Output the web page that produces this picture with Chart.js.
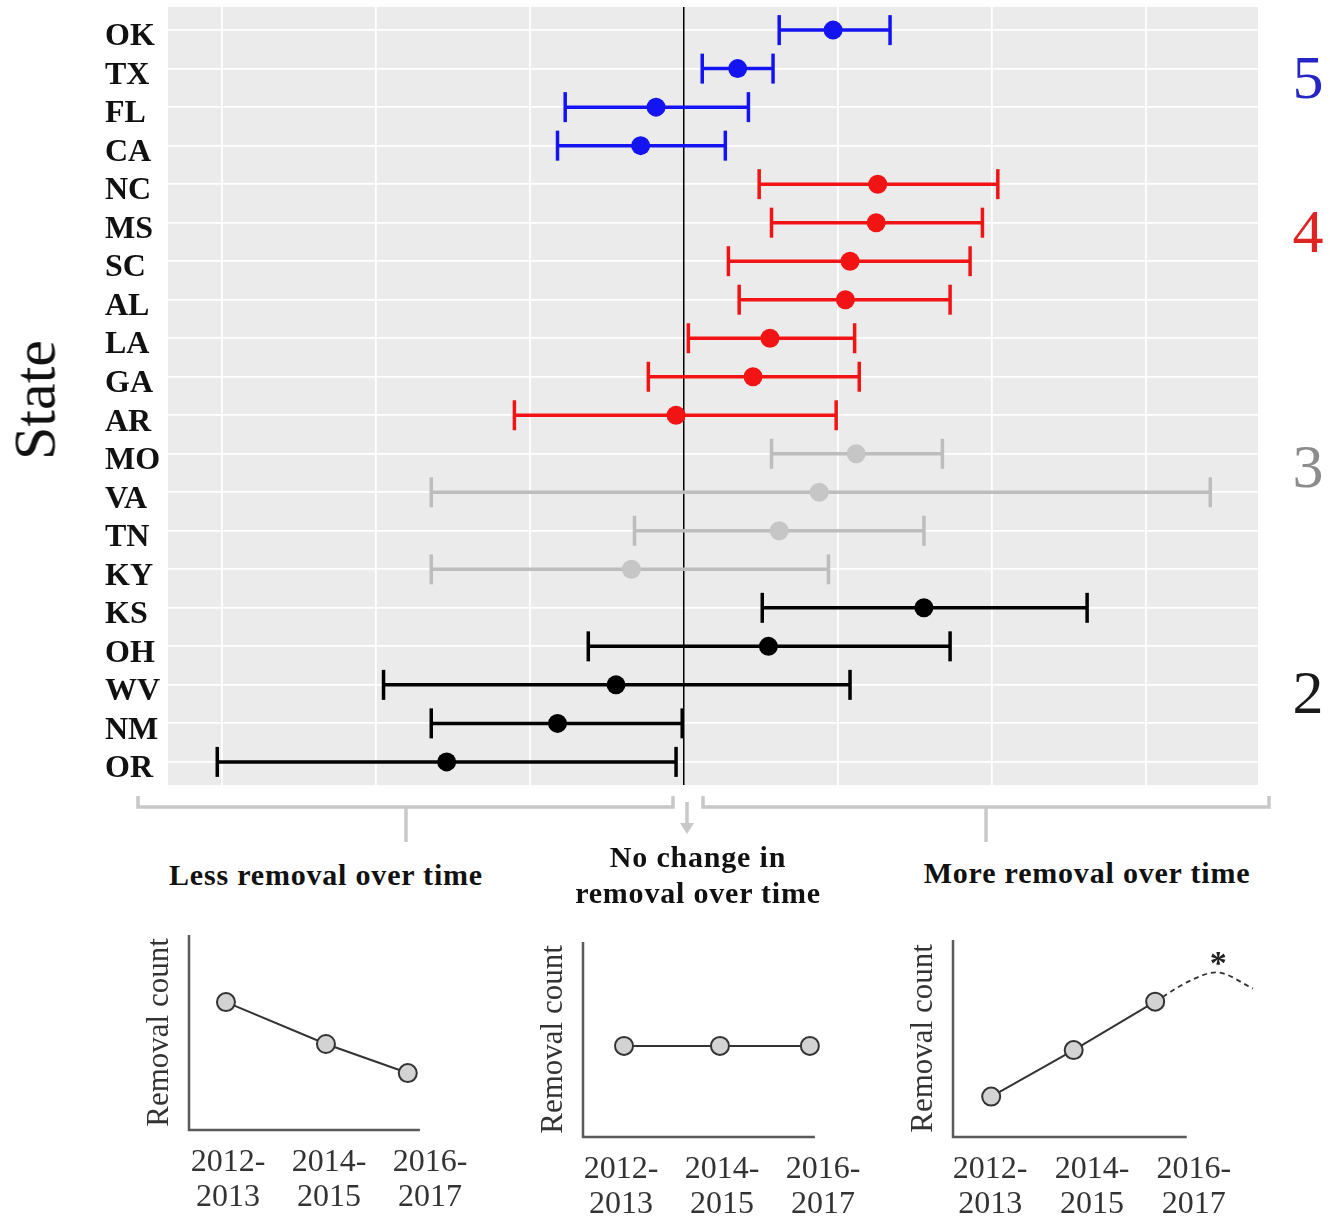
<!DOCTYPE html>
<html>
<head>
<meta charset="utf-8">
<script src="https://cdn.jsdelivr.net/npm/chart.js@4.4.1/dist/chart.umd.min.js"></script>
<style>
  html, body { margin: 0; padding: 0; background: #fff; }
  #page { position: relative; width: 1330px; height: 1220px; overflow: hidden; font-family: "Liberation Serif", "DejaVu Serif", serif; }
  canvas { position: absolute; }
  .lbl { position: absolute; transform: translate(-50%, -50%); white-space: nowrap; color: #111; font-family: "Liberation Serif", serif; }
  .head { font-weight: bold; font-size: 30px; letter-spacing: 0.8px; text-align: center; line-height: 36px; }
</style>
</head>
<body>
<div id="page">
  <canvas id="main" width="1330" height="800" style="left:0;top:0"></canvas>
  <div class="lbl" style="left:35px;top:400px;font-size:60px;transform:translate(-50%,-50%) rotate(-90deg)">State</div>

  <svg style="position:absolute;left:0;top:780px" width="1330" height="70">
    <g fill="none" stroke="#c8c8c8" stroke-width="3.5">
      <path d="M138,16 V27 H673 V16" />
      <path d="M406,27 V62" />
      <path d="M703,16 V27 H1269 V16" />
      <path d="M986,27 V62" />
      <path d="M687,22 V46" />
    </g>
    <polygon points="680,43 694,43 687,54" fill="#c8c8c8" />
  </svg>

  <div class="lbl head" style="left:326px;top:875px">Less removal over time</div>
  <div class="lbl head" style="left:698px;top:875px">No change in<br>removal over time</div>
  <div class="lbl head" style="left:1087px;top:873px">More removal over time</div>

  <canvas id="less" width="361" height="300" style="left:129px;top:920px"></canvas>
  <canvas id="same" width="360" height="300" style="left:523px;top:927px"></canvas>
  <canvas id="more" width="373" height="300" style="left:893px;top:927px"></canvas>
</div>
<script>
// forest plot data (top to bottom)
const states = ['OK', 'TX', 'FL', 'CA', 'NC', 'MS', 'SC', 'AL', 'LA', 'GA', 'AR', 'MO', 'VA', 'TN', 'KY', 'KS', 'OH', 'WV', 'NM', 'OR'];
const estimate = [0.97, 0.35, -0.18, -0.28, 1.26, 1.25, 1.08, 1.05, 0.56, 0.45, -0.05, 1.12, 0.88, 0.62, -0.34, 1.56, 0.55, -0.44, -0.82, -1.54];
const lower = [0.62, 0.12, -0.77, -0.82, 0.49, 0.57, 0.29, 0.36, 0.03, -0.23, -1.10, 0.57, -1.64, -0.32, -1.64, 0.51, -0.62, -1.95, -1.64, -3.03];
const upper = [1.34, 0.58, 0.42, 0.27, 2.04, 1.94, 1.86, 1.73, 1.11, 1.14, 0.99, 1.68, 3.42, 1.56, 0.94, 2.62, 1.73, 1.08, -0.01, -0.05];
const group = [5, 5, 5, 5, 4, 4, 4, 4, 4, 4, 4, 3, 3, 3, 3, 2, 2, 2, 2, 2];
const gridValues = [-3, -2, -1, 0, 1, 2, 3];

// group numbers on the right
const groupNames = ['5', '4', '3', '2'];
const groupLabelRows = [1.35, 5.35, 11.45, 17.3];

// schematic panels below
const yearLabels = [['2012-', '2013'], ['2014-', '2015'], ['2016-', '2017']];
const lessX = [-0.02, 0.97, 1.78];
const lessY = [6.56, 4.41, 2.92];
const sameX = [0.03, 0.98, 1.87];
const sameY = [4.67, 4.67, 4.67];
const moreX = [0.01, 0.82, 1.62];
const moreY = [2.05, 4.41, 6.87];
const trendX = [1.62, 1.95, 2.22, 2.58];
const trendY = [6.87, 7.9, 8.36, 7.54];

const serif = '"Liberation Serif", "DejaVu Serif", serif';
const barColor = { 5: '#1414f2', 4: '#f21414', 3: '#bdbdbd', 2: '#000000' };
const dotColor = { 5: '#1414f2', 4: '#f21414', 3: '#c6c6c6', 2: '#000000' };
const labelColor = { 5: '#2626c4', 4: '#e02424', 3: '#8c8c8c', 2: '#1a1a1a' };

const panelBg = {
  id: 'panelBg',
  beforeDraw(chart) {
    const { ctx, chartArea: a } = chart;
    ctx.save();
    ctx.fillStyle = '#ebebeb';
    ctx.fillRect(a.left, a.top, a.right - a.left, a.bottom - a.top);
    ctx.restore();
  }
};

const groupLabels = {
  id: 'groupLabels',
  afterDraw(chart) {
    const { ctx, chartArea: a, scales } = chart;
    ctx.save();
    ctx.font = '62px ' + serif;
    ctx.textAlign = 'center';
    ctx.textBaseline = 'middle';
    groupNames.forEach((g, k) => {
      ctx.fillStyle = labelColor[g];
      ctx.fillText(g, a.right + 50, scales.y.getPixelForValue(groupLabelRows[k]));
    });
    ctx.restore();
  }
};

const datasets = [{
  data: [{ x: 0, y: -0.6 }, { x: 0, y: 19.6 }],
  showLine: true, borderColor: '#000', borderWidth: 1.5, pointRadius: 0, order: 3
}];
states.forEach((s, i) => {
  const c = barColor[group[i]];
  datasets.push({
    data: [{ x: lower[i], y: i }, { x: upper[i], y: i }],
    showLine: true, borderColor: c, borderWidth: 3.5,
    pointStyle: 'line', pointRotation: 90, pointRadius: 15,
    pointBorderWidth: 3.5, pointBorderColor: c, order: 2
  });
});
datasets.push({
  data: states.map((s, i) => ({ x: estimate[i], y: i })),
  pointRadius: 9.5, pointBorderWidth: 0,
  pointBackgroundColor: group.map(g => dotColor[g]), order: 1
});

new Chart(document.getElementById('main'), {
  type: 'scatter',
  data: { datasets },
  options: {
    responsive: false, animation: false, events: [],
    layout: { autoPadding: false, padding: { top: 7, right: 72, bottom: 15, left: 105 } },
    plugins: { legend: { display: false }, tooltip: { enabled: false } },
    scales: {
      x: {
        type: 'linear', min: -3.35, max: 3.73,
        afterBuildTicks: s => { s.ticks = gridValues.map(v => ({ value: v })); },
        afterFit: s => { s.height = 0; s.paddingLeft = 0; s.paddingRight = 0; },
        ticks: { display: false },
        border: { display: false },
        grid: { drawTicks: false, lineWidth: 1.8, color: c => c.tick && c.tick.value === 0 ? 'rgba(0,0,0,0)' : '#ffffff' }
      },
      y: {
        type: 'linear', min: -0.6, max: 19.6, reverse: true,
        afterBuildTicks: s => { s.ticks = states.map((_, i) => ({ value: i })); },
        afterFit: s => { s.width = 63; s.paddingTop = 0; s.paddingBottom = 0; },
        ticks: {
          callback: v => states[v], crossAlign: 'far', labelOffset: 7, autoSkip: false,
          color: '#111', font: { family: serif, size: 32, weight: 'bold' }
        },
        border: { display: false },
        grid: { drawTicks: false, lineWidth: 1.8, color: '#ffffff' }
      }
    }
  },
  plugins: [panelBg, groupLabels]
});

const miniAxis = {
  id: 'miniAxis',
  beforeDatasetsDraw(chart, args, o) {
    const { ctx, chartArea: a, scales: { x } } = chart;
    ctx.save();
    ctx.strokeStyle = '#5a5a5a';
    ctx.lineWidth = 2.5;
    ctx.beginPath();
    ctx.moveTo(a.left, a.top);
    ctx.lineTo(a.left, a.bottom);
    ctx.lineTo(x.getPixelForValue(o.axisEnd), a.bottom);
    ctx.stroke();
    ctx.restore();
  },
  afterDraw(chart, args, o) {
    if (!o.star) return;
    const { ctx, scales: { x, y } } = chart;
    ctx.save();
    ctx.font = 'bold 34px ' + serif;
    ctx.fillStyle = '#222';
    ctx.textAlign = 'center';
    ctx.textBaseline = 'alphabetic';
    ctx.fillText('*', x.getPixelForValue(o.star.x), y.getPixelForValue(o.star.y) + 0.54 * 34);
    ctx.restore();
  }
};

function miniChart(id, xs, ys, o) {
  const ds = [{
    data: xs.map((x, i) => ({ x, y: ys[i] })),
    showLine: true, borderColor: '#333', borderWidth: 2,
    pointRadius: 9, pointBackgroundColor: '#d3d3d3', pointBorderColor: '#333', pointBorderWidth: 2, order: 0
  }];
  if (o.dashX) {
    ds.push({
      data: o.dashX.map((x, i) => ({ x, y: o.dashY[i] })),
      showLine: true, borderColor: '#333', borderWidth: 1.8, borderDash: [5, 4],
      pointRadius: 0, cubicInterpolationMode: 'monotone', order: 1
    });
  }
  new Chart(document.getElementById(id), {
    type: 'scatter',
    data: { datasets: ds },
    options: {
      responsive: false, animation: false, events: [],
      layout: { autoPadding: false, padding: { top: o.padTop, right: o.padRight, bottom: 0, left: 0 } },
      plugins: {
        legend: { display: false }, tooltip: { enabled: false },
        miniAxis: { axisEnd: o.axisEnd, star: o.star }
      },
      scales: {
        x: {
          type: 'linear', min: o.xMin, max: o.xMax,
          afterBuildTicks: s => { s.ticks = yearLabels.map((_, i) => ({ value: i })); },
          afterFit: s => { s.height = 90; },
          grid: { display: false, drawTicks: false }, border: { display: false },
          ticks: {
            callback: v => yearLabels[v], color: '#333', padding: 15, maxRotation: 0, autoSkip: false,
            font: { family: serif, size: 32, lineHeight: 1.1 }
          }
        },
        y: {
          min: 0, max: 10,
          afterFit: s => { s.width = 60; },
          grid: { display: false, drawTicks: false }, border: { display: false },
          ticks: { display: false },
          title: {
            display: true, text: 'Removal count', color: '#333',
            font: { family: serif, size: 31, lineHeight: 1.2 }, padding: { top: 12, bottom: 0 }
          }
        }
      }
    },
    plugins: [miniAxis]
  });
}

miniChart('less', lessX, lessY, { padTop: 15, padRight: 20, xMin: -0.386, xMax: 2.396, axisEnd: 1.9 });
miniChart('same', sameX, sameY, { padTop: 15, padRight: 20, xMin: -0.376, xMax: 2.396, axisEnd: 1.92 });
miniChart('more', moreX, moreY, {
  padTop: 13, padRight: 10, xMin: -0.365, xMax: 2.61, axisEnd: 1.93,
  dashX: trendX, dashY: trendY, star: { x: 2.24, y: 9.23 }
});
</script>
</body>
</html>
